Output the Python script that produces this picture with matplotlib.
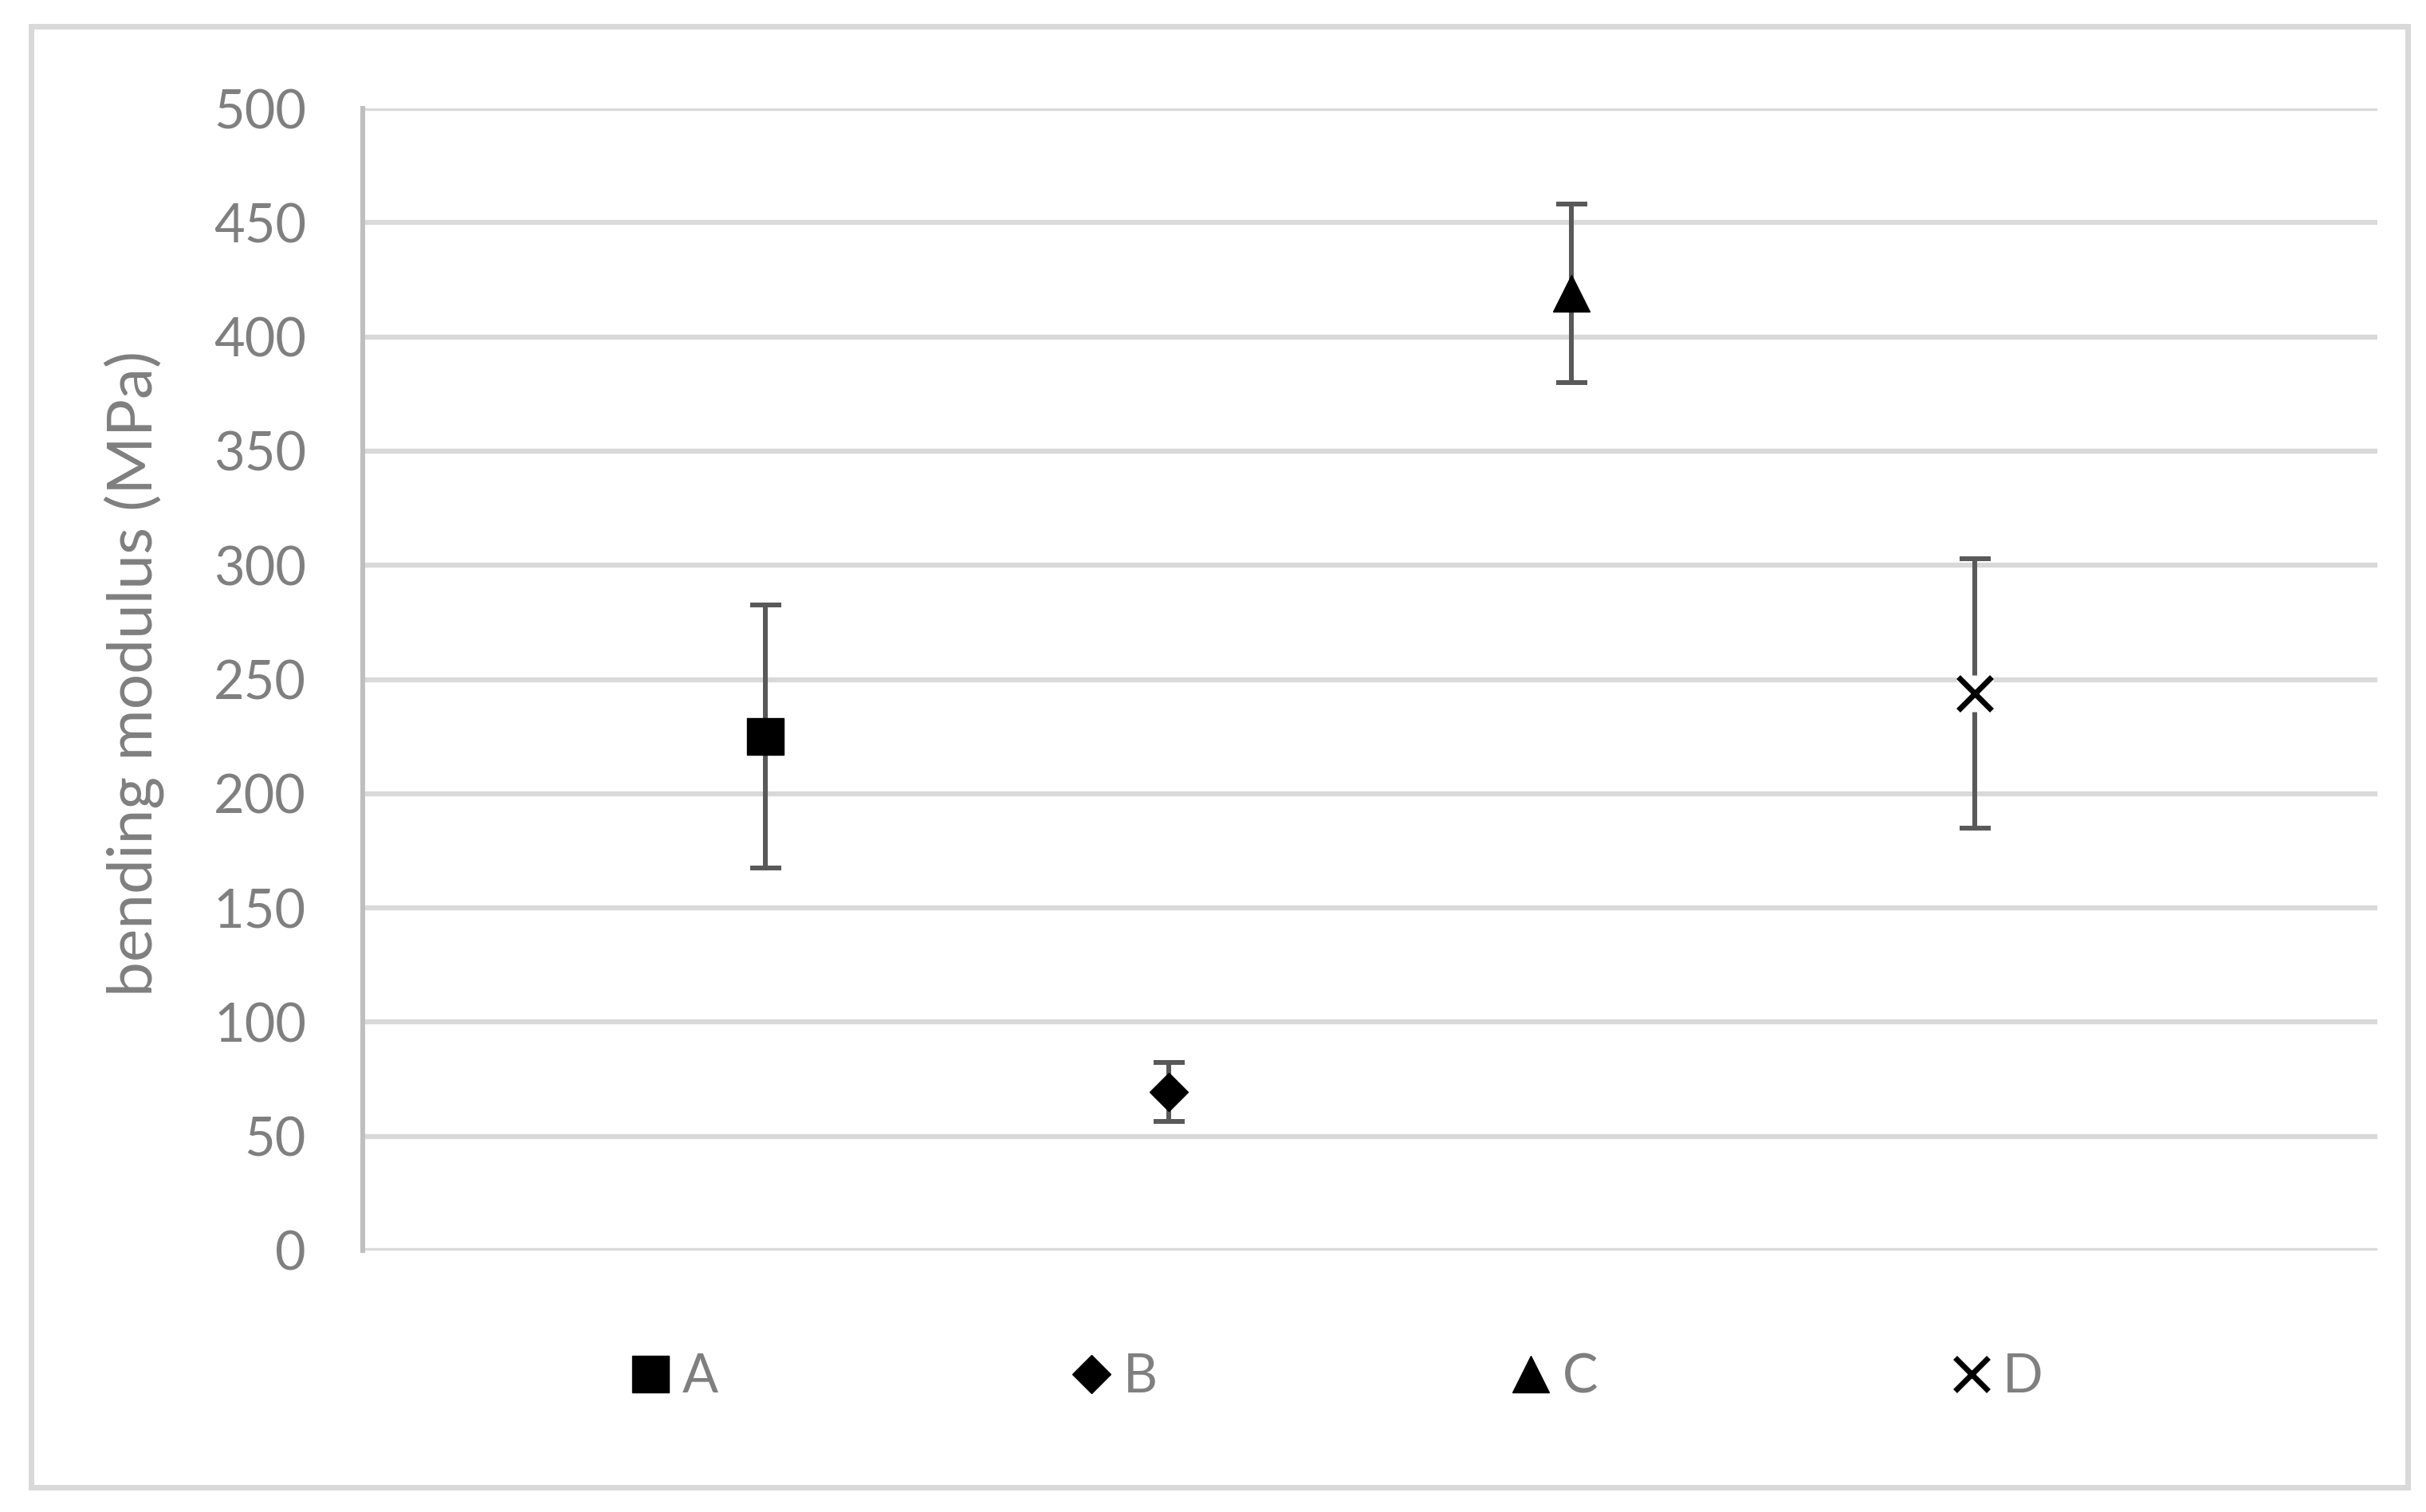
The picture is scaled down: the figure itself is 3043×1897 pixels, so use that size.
import matplotlib
matplotlib.use("Agg")
import matplotlib.pyplot as plt
from matplotlib.patches import Rectangle

# ---- data ----
categories = ["A", "B", "C", "D"]
positions = [1, 2, 3, 4]
means = [225, 69.5, 419, 244]
errors = [57.5, 13, 39, 59]
markers = ["s", "D", "^", "x"]
yticks = [0, 50, 100, 150, 200, 250, 300, 350, 400, 450, 500]
ylabel = "bending modulus (MPa)"

W, H, DPI = 3043, 1897, 100
PX = 72.0 / DPI  # points per pixel

plt.rcParams["font.family"] = ["Lato", "DejaVu Sans"]

fig = plt.figure(figsize=(W / DPI, H / DPI), dpi=DPI, facecolor="white")

# outer chart border
fig.patches.append(Rectangle((39 / W, 1 - 1866 / H), (3020 - 39) / W, (1866 - 33) / H,
                             transform=fig.transFigure, fill=False,
                             edgecolor="#d9d9d9", linewidth=7 * PX, zorder=0))

left, right, top, bottom = 455 / W, 2982 / W, 1 - 136 / H, 1 - 1569 / H
ax = fig.add_axes([left, bottom, right - left, top - bottom])

ax.set_xlim(0, 5)
ax.set_ylim(0, 500)
ax.set_yticks(yticks)
ax.set_xticks([])
ax.grid(axis="y", color="#d9d9d9", linewidth=6.3 * PX)
ax.set_axisbelow(True)
for s in ["top", "right", "bottom"]:
    ax.spines[s].set_visible(False)
ax.spines["left"].set_color("#bfbfbf")
ax.spines["left"].set_linewidth(6 * PX)
ax.spines["left"].set_zorder(1)

tick_fs = 48
ax.tick_params(axis="y", length=0, pad=71 * PX, labelsize=tick_fs, labelcolor="#7f7f7f")

ax.set_ylabel(ylabel, fontsize=56.5, color="#7f7f7f")
ax.yaxis.label.set_va("center")
ax.yaxis.set_label_coords((168 - 455) / (2982 - 455), 0.505)

# error bars
ax.errorbar(positions, means, yerr=errors, fmt="none", ecolor="#595959",
            elinewidth=6 * PX, capsize=19.5 * PX, capthick=6 * PX, zorder=3)

msizes = {"s": 32.5, "D": 24.5, "^": 33.5, "x": 30.3}
handles = []
for xpos, m, mk, lab in zip(positions, means, markers, categories):
    if mk == "x":
        # white box behind the cross (masks grid and error bar)
        ax.plot([xpos], [m], linestyle="none", marker="s", markersize=33.8,
                markerfacecolor="white", markeredgecolor="none", zorder=4)
        h, = ax.plot([xpos], [m], linestyle="none", marker="x", markersize=msizes[mk],
                     markeredgecolor="black", markeredgewidth=5, zorder=5, label=lab)
    else:
        h, = ax.plot([xpos], [m], linestyle="none", marker=mk, markersize=msizes[mk],
                     markerfacecolor="black", markeredgecolor="black",
                     markeredgewidth=1, zorder=5, label=lab)
    handles.append(h)

fig.legend(handles, categories, ncol=4, loc="center",
           bbox_to_anchor=(1678 / W, 1 - 1728 / H), bbox_transform=fig.transFigure,
           frameon=False, fontsize=tick_fs, labelcolor="#7f7f7f",
           handlelength=0.7, handletextpad=0.24, columnspacing=6.68,
           borderpad=0, borderaxespad=0, numpoints=1)

fig.savefig("out.png", dpi=DPI, facecolor="white")
